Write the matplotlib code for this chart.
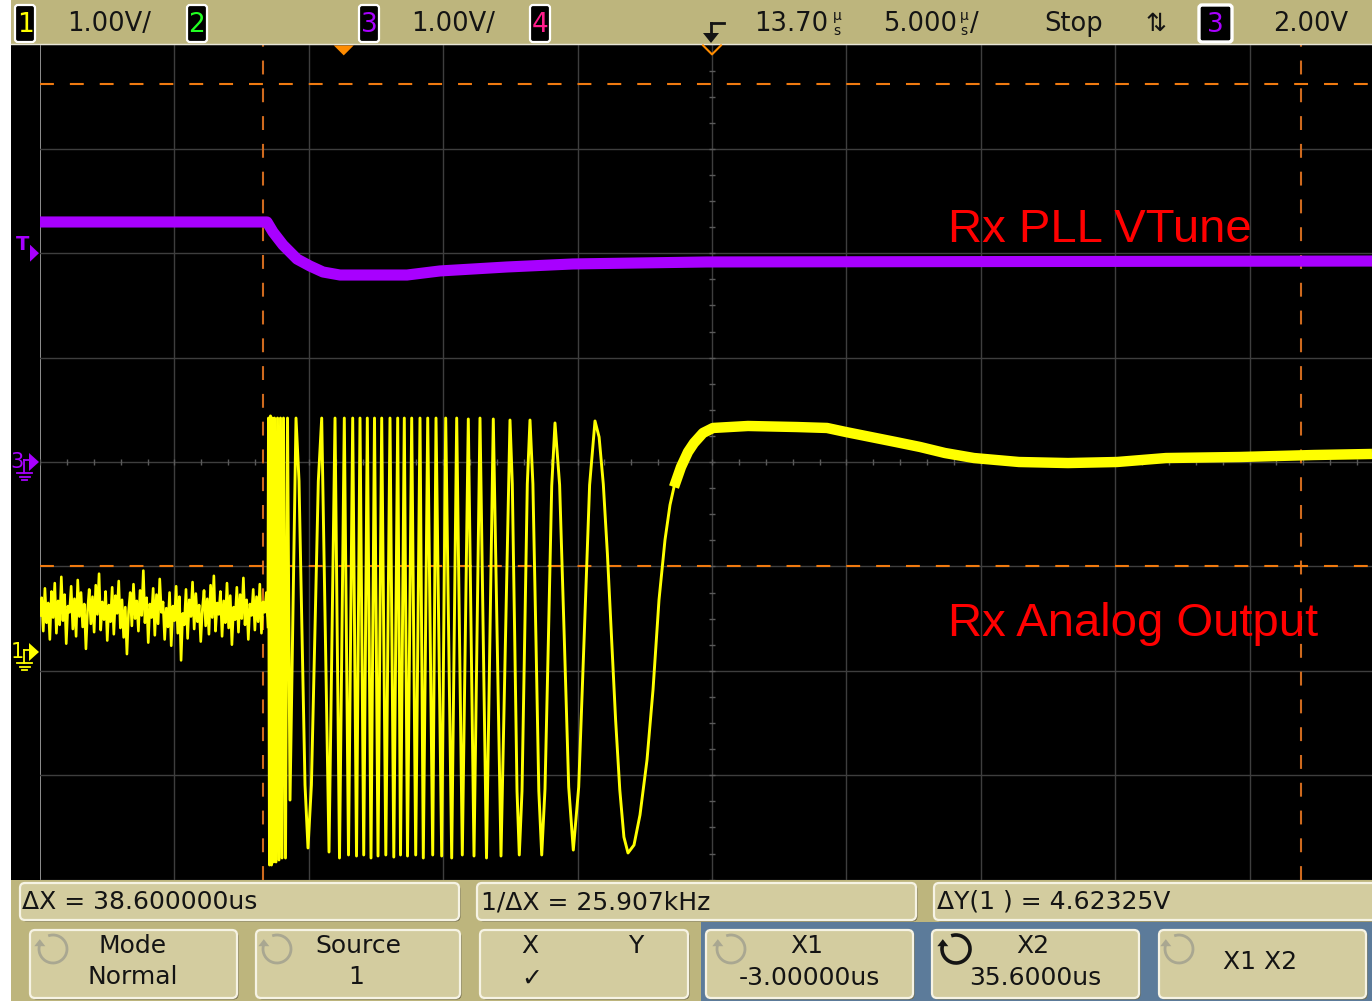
import numpy as np
import matplotlib
matplotlib.use("Agg")
import matplotlib.pyplot as plt
from matplotlib.patches import Rectangle, FancyBboxPatch, Polygon, Arc

plt.rcParams['font.family'] = ['DejaVu Sans']
plt.rcParams['lines.scale_dashes'] = False

# ---------------- scope settings / data ----------------
time_per_div_us = 5.0
center_time_us = 13.70
volts_per_div = 1.0
ch1_ground_div = -1.82
ch3_ground_div = 0.0
trigger_level_v = 2.00

cursor_x1_us = -3.0
cursor_x2_us = 35.6
cursor_y1_v = 0.82
cursor_dy_v = 4.62325

# Channel 3 : Rx PLL VTune
vtune_t_us = [-11.30, -2.855, -2.632, -2.260, -1.739, -1.255, -0.772, -0.139,
              2.354, 3.581, 6.073, 8.529, 13.514, 38.254]
vtune_v = [2.299, 2.299, 2.203, 2.079, 1.944, 1.877, 1.820, 1.791,
           1.791, 1.830, 1.868, 1.897, 1.916, 1.925]

# Channel 1 : Rx Analog Output, noise before the burst
pre_noise_v = [0.35, 0.52, 0.20, 0.61, 0.28, 0.47, 0.12, 0.58, 0.33, 0.66,
               0.18, 0.49, 0.26, 0.72, 0.30, 0.55, 0.08, 0.44, 0.38, 0.63,
               0.22, 0.51, 0.15, 0.69, 0.34, 0.57, 0.24, 0.46, 0.03, 0.40,
               0.60, 0.27, 0.53, 0.19, 0.64, 0.36, 0.75, 0.21, 0.48, 0.31,
               0.58, 0.11, 0.45, 0.29, 0.62, 0.17, 0.54, 0.37, 0.68, 0.23,
               0.50, 0.14, 0.43, -0.02, 0.39, 0.57, 0.25, 0.65, 0.32, 0.49,
               0.20, 0.59, 0.35, 0.78, 0.28, 0.52, 0.09, 0.46, 0.33, 0.61,
               0.16, 0.55, 0.27, 0.70, 0.38, 0.48, 0.12, 0.42, 0.24, 0.57,
               0.06, 0.44, 0.30, 0.63, 0.18, 0.53, -0.08, 0.37, 0.26, 0.60,
               0.13, 0.50, 0.34, 0.67, 0.22, 0.56, 0.29, 0.45, 0.10, 0.41,
               0.59, 0.25, 0.51, 0.17, 0.64, 0.33, 0.73, 0.20, 0.47, 0.36,
               0.58, 0.15, 0.49, 0.28, 0.66, 0.23, 0.54, 0.07, 0.43, 0.31,
               0.62, 0.19, 0.55, 0.32, 0.71, 0.26, 0.50, 0.12, 0.46, 0.35,
               0.60, 0.21, 0.53, 0.29, 0.65, 0.18, 0.48, 0.38, 0.57, 0.24]

# Channel 1 : chirp burst (peaks / troughs)
chirp_t_us = [-2.818, -2.799, -2.762, -2.725, -2.688, -2.650, -2.613, -2.576, -2.520, -2.464,
              -2.409, -2.353, -2.297, -2.241, -2.167, -2.092, -1.999,
              -1.776, -1.664, -1.553, -1.441, -1.330, -1.203, -1.073, -0.946, -0.820,
              -0.548, -0.325, -0.158, 0.021, 0.177, 0.333, 0.475, 0.605, 0.743, 0.877,
              1.014, 1.144, 1.275, 1.412, 1.565, 1.721, 1.862, 2.007, 2.112, 2.253,
              2.372, 2.528, 2.677, 2.837, 2.960, 3.124, 3.310, 3.432, 3.644, 3.793,
              4.016, 4.202, 4.411, 4.634, 4.846, 5.069, 5.311, 5.564, 5.850, 6.185,
              6.271, 6.360, 6.446, 6.531, 6.632, 6.732, 6.829, 6.929, 7.037, 7.149,
              7.257, 7.365, 7.487, 7.614, 7.737, 7.859, 8.031, 8.202, 8.369, 8.540,
              8.741, 8.946, 9.147, 9.347, 9.500, 9.656, 9.809, 9.961, 10.114, 10.270,
              10.423, 10.575, 10.798, 11.021, 11.282, 11.505, 11.728, 11.951, 12.137, 12.286]
chirp_v = [0.354, 2.241, -2.040, 2.261, -2.040, 2.241, -2.011, 2.241, -2.011, 2.241,
           -1.992, 2.241, -1.973, 2.241, -1.973, 2.241, -1.418,
           2.241, 1.638, 0.182, -1.274, -1.877, -1.274, 0.182, 1.638, 2.241,
           -1.916, 2.241, -1.973, 2.241, -1.944, 2.241, -1.954, 2.241, -1.944, 2.241,
           -1.973, 2.241, -1.954, 2.241, -1.944, 2.241, -1.964, 2.241, -1.944, 2.241,
           -1.954, 2.241, -1.944, 2.241, -1.973, 2.241, -1.944, 2.241, -1.954, 2.241,
           -1.973, 2.241, -1.944, 2.232, -1.954, 2.241, -1.973, 2.232, -1.954, 2.222,
           1.609, 0.144, -1.331, -1.944, -1.331, 0.144, 1.609, 2.222, 1.609, 0.144,
           -1.331, -1.944, -1.312, 0.125, 1.590, 2.194, 1.600, 0.153, -1.293, -1.897,
           -1.293, 0.153, 1.600, 2.213, 2.059, 1.609, 0.939, 0.144, -0.651, -1.322,
           -1.772, -1.925, -1.849, -1.561, -1.034, -0.364, 0.498, 1.073, 1.408, 1.580]

# Channel 1 : settling after the burst
settle_t_us = [12.286, 12.547, 12.807, 13.030, 13.365, 13.737, 15.039, 16.862, 17.978, 18.685,
               19.615, 20.545, 21.438, 22.368, 23.447, 25.121, 26.944, 28.767, 30.590, 33.343,
               36.096, 38.254]
settle_v = [1.580, 1.772, 1.916, 2.002, 2.098, 2.146, 2.165, 2.155, 2.146, 2.107,
            2.059, 2.011, 1.964, 1.906, 1.858, 1.820, 1.810, 1.820, 1.858, 1.868,
            1.887, 1.897]

# ---------------- layout (pixels) ----------------
W, H = 1372, 1001
gx0, gx1 = 40.0, 1372.0
gy0, gy1 = 44.4, 879.6
px_div_x = 134.4
px_div_y = (gy1 - gy0) / 8.0
t_left = center_time_us - 5 * time_per_div_us
t_right = t_left + (gx1 - gx0) / px_div_x * time_per_div_us

def tx(t):
    return gx0 + (t - t_left) / time_per_div_us * px_div_x

def dy(d):
    return (gy0 + gy1) / 2 - d * px_div_y

KHAKI = '#BDB57D'
PANEL = '#D3CC9F'
YEL = '#FFFF00'
PUR = '#A800FF'
ORG_V = '#CF6A1E'
ORG_H = '#F07A10'

fig = plt.figure(figsize=(W / 100, H / 100), dpi=100)
fig.patch.set_facecolor('white')

bg = fig.add_axes([0, 0, 1, 1], zorder=0)
bg.set_xlim(0, W); bg.set_ylim(H, 0); bg.axis('off')
bg.add_patch(Rectangle((11, 0), W - 11, H, fc='black', ec='none'))

ax = fig.add_axes([gx0 / W, 1 - gy1 / H, (gx1 - gx0) / W, (gy1 - gy0) / H], zorder=1)
ax.set_facecolor('black')
ax.set_xlim(t_left, t_right)
ax.set_ylim(-4, 4)
ax.set_xticks([]); ax.set_yticks([])
for s in ax.spines.values():
    s.set_visible(False)

# graticule
GRID = '#3E3E3E'
for k in range(11):
    t = t_left + k * time_per_div_us
    if t <= t_right:
        ax.axvline(t, color=('#A8A8A8' if k == 0 else GRID), lw=1.2 if k == 0 else 1.0, zorder=1)
for j in range(-4, 5):
    ax.axhline(j, color=GRID, lw=1.0, zorder=1)
minor_t = t_left + np.arange(0, 50) * time_per_div_us / 5
ax.vlines(minor_t, -0.03, 0.03, color='#5A5A5A', lw=1.0, zorder=1)
minor_y = np.arange(-16, 17) * 0.25
ax.hlines(minor_y, center_time_us - 0.13, center_time_us + 0.13, color='#5A5A5A', lw=1.0, zorder=1)

# cursors
for cx in (cursor_x1_us, cursor_x2_us):
    ax.axvline(cx, color=ORG_V, lw=1.5, dashes=(10, 10), zorder=2)
for cy in (cursor_y1_v, cursor_y1_v + cursor_dy_v):
    ax.axhline(cy / volts_per_div + ch1_ground_div, color=ORG_H, lw=1.5, dashes=(10, 11.5), zorder=2)

# traces
ax.plot(vtune_t_us, np.array(vtune_v) / volts_per_div + ch3_ground_div, color=PUR, lw=8,
        solid_joinstyle='round', solid_capstyle='butt', zorder=3)
noise_t = np.linspace(t_left, chirp_t_us[0], len(pre_noise_v))
ax.plot(noise_t, np.array(pre_noise_v) / volts_per_div + ch1_ground_div, color=YEL, lw=1.9,
        solid_joinstyle='round', zorder=4)
ax.plot(chirp_t_us, np.array(chirp_v) / volts_per_div + ch1_ground_div, color=YEL, lw=2.1,
        solid_joinstyle='round', zorder=4)
ax.plot(settle_t_us, np.array(settle_v) / volts_per_div + ch1_ground_div, color=YEL, lw=7.5,
        solid_joinstyle='round', solid_capstyle='butt', zorder=4)

# ---------------- overlay: bars, markers, labels ----------------
ov = fig.add_axes([0, 0, 1, 1], zorder=2)
ov.set_xlim(0, W); ov.set_ylim(H, 0); ov.axis('off')
ov.patch.set_alpha(0)

# top bar
ov.add_patch(Rectangle((11, 0), W - 11, gy0, fc=KHAKI, ec='none'))
ov.plot([11, W], [gy0, gy0], color='#E8E6D8', lw=1)

def chbox(x0, x1, y0, y1, digit, color, lw=1.6):
    ov.add_patch(FancyBboxPatch((x0, y0), x1 - x0, y1 - y0,
                                boxstyle='round,pad=0,rounding_size=3',
                                fc='black', ec='white', lw=lw))
    ov.text((x0 + x1) / 2, (y0 + y1) / 2 + 1, digit, color=color, ha='center', va='center',
            fontsize=19)

TXT = '#141414'
chbox(15, 35, 5, 42, '1', YEL)
ov.text(67, 24, '1.00V/', fontsize=18.5, color=TXT, ha='left', va='center')
chbox(187, 207, 5, 42, '2', '#22FF22')
chbox(359, 379, 5, 42, '3', PUR)
ov.text(411, 24, '1.00V/', fontsize=18.5, color=TXT, ha='left', va='center')
chbox(530, 550, 5, 42, '4', '#FF1E8C')

# falling-edge trigger symbol
ov.plot([711, 724], [23, 23], color=TXT, lw=2)
ov.plot([711, 711], [23, 36], color=TXT, lw=2)
ov.add_patch(Polygon([(703, 33), (719, 33), (711, 43)], closed=True, fc=TXT, ec='none'))

ov.text(828, 24, '13.70', fontsize=18.5, color=TXT, ha='right', va='center')
ov.text(837, 16, 'µ', fontsize=10, color=TXT, ha='center', va='center')
ov.text(837, 31, 's', fontsize=10, color=TXT, ha='center', va='center')
ov.text(957, 24, '5.000', fontsize=18.5, color=TXT, ha='right', va='center')
ov.text(964, 16, 'µ', fontsize=10, color=TXT, ha='center', va='center')
ov.text(964, 31, 's', fontsize=10, color=TXT, ha='center', va='center')
ov.text(970, 24, '/', fontsize=18.5, color=TXT, ha='left', va='center')
ov.text(1044, 24, 'Stop', fontsize=18.5, color=TXT, ha='left', va='center')
ov.text(1156, 24, '⇅', fontsize=18, color=TXT, ha='center', va='center')
chbox(1199, 1232, 5, 42, '3', PUR, lw=2.4)
ov.text(1273, 24, '2.00V', fontsize=18.5, color=TXT, ha='left', va='center')

# trigger position markers on top of graticule
x_trig = tx(0.0)
x_ref = tx(center_time_us)
ov.add_patch(Polygon([(x_trig - 10, gy0 + 1), (x_trig + 10, gy0 + 1), (x_trig, gy0 + 11)],
                     closed=True, fc='#FF8C00', ec='none'))
ov.plot([x_ref - 9, x_ref, x_ref + 9], [gy0 + 1, gy0 + 10, gy0 + 1], color='#FF8C00', lw=1.5)

# left channel markers
yT = dy(trigger_level_v / volts_per_div + ch3_ground_div)
ov.text(23, yT - 9, 'T', fontsize=14, color=PUR, ha='center', va='center', fontweight='bold')
ov.add_patch(Polygon([(30, yT - 8.5), (30, yT + 8.5), (39, yT)], closed=True, fc=PUR, ec='none'))

def gnd_marker(yc, digit, color):
    ov.text(17, yc, digit, fontsize=15, color=color, ha='center', va='center')
    ov.add_patch(Polygon([(29, yc - 9), (29, yc + 9), (39, yc)], closed=True, fc=color, ec='none'))
    ov.plot([24, 29], [yc - 2, yc - 2], color=color, lw=1.3)
    ov.plot([24, 24], [yc - 2, yc + 11], color=color, lw=1.3)
    ov.plot([17, 32], [yc + 11, yc + 11], color=color, lw=1.3)
    ov.plot([19.5, 29.5], [yc + 14.5, yc + 14.5], color=color, lw=1.3)
    ov.plot([22, 27], [yc + 18, yc + 18], color=color, lw=1.3)

gnd_marker(dy(ch3_ground_div), '3', PUR)
gnd_marker(dy(ch1_ground_div), '1', YEL)

# annotation labels
ov.text(948, 242, 'Rx PLL VTune', fontsize=34, color='#FF0000', ha='left', va='baseline',
        family=['Liberation Sans', 'DejaVu Sans'])
ov.text(948, 636, 'Rx Analog Output', fontsize=34, color='#FF0000', ha='left', va='baseline',
        family=['Liberation Sans', 'DejaVu Sans'])

# bottom bar
ov.add_patch(Rectangle((11, gy1), W - 11, H - gy1, fc=KHAKI, ec='none'))
ov.add_patch(Rectangle((701, 922), W - 701, H - 922, fc='#5C7B9A', ec='none'))

def panel(x0, x1, y0, y1):
    ov.add_patch(FancyBboxPatch((x0 + 1.5, y0 + 1.5), x1 - x0, y1 - y0,
                                boxstyle='round,pad=0,rounding_size=5', fc='#6F6A4C', ec='none'))
    ov.add_patch(FancyBboxPatch((x0, y0), x1 - x0, y1 - y0,
                                boxstyle='round,pad=0,rounding_size=5', fc=PANEL,
                                ec='#F6F3E4', lw=1.6))

def icon(cx, cy, color, lw):
    ov.add_patch(Arc((cx, cy), 28, 28, theta1=250, theta2=560, color=color, lw=lw))
    axp, ayp = cx - 13.2, cy - 4.8
    ov.add_patch(Polygon([(axp - 5.5, ayp + 2), (axp + 5.5, ayp + 2), (axp, ayp - 5)],
                         closed=True, fc=color, ec='none'))

panel(20, 459, 883, 920)
panel(477, 916, 883, 920)
panel(934, 1385, 883, 920)
ov.text(22, 902, 'ΔX = 38.600000us', fontsize=18, color=TXT, ha='left', va='center')
ov.text(481, 902, '1/ΔX = 25.907kHz', fontsize=18, color=TXT, ha='left', va='center')
ov.text(937, 902, 'ΔY(1 ) = 4.62325V', fontsize=18, color=TXT, ha='left', va='center')

panel(30, 237, 930, 998)
panel(256, 460, 930, 998)
panel(480, 688, 930, 998)
panel(706, 913, 930, 998)
panel(932, 1139, 930, 998)
panel(1159, 1366, 930, 998)

GRAYI = '#A9A791'
icon(53, 949, GRAYI, 2.0)
icon(277, 949, GRAYI, 2.0)
icon(731, 949, GRAYI, 2.0)
icon(956, 949, TXT, 2.6)
icon(1179, 949, GRAYI, 2.0)

ov.text(133, 946, 'Mode', fontsize=18, color=TXT, ha='center', va='center')
ov.text(133, 977, 'Normal', fontsize=18, color=TXT, ha='center', va='center')
ov.text(358, 946, 'Source', fontsize=18, color=TXT, ha='center', va='center')
ov.text(356, 977, '1', fontsize=18, color=TXT, ha='center', va='center')
ov.text(530, 946, 'X', fontsize=18, color=TXT, ha='center', va='center')
ov.text(636, 946, 'Y', fontsize=18, color=TXT, ha='center', va='center')
ov.text(532, 979, '✓', fontsize=18, color=TXT, ha='center', va='center')
ov.text(807, 946, 'X1', fontsize=18, color=TXT, ha='center', va='center')
ov.text(809, 978, '-3.00000us', fontsize=18, color=TXT, ha='center', va='center')
ov.text(1033, 946, 'X2', fontsize=18, color=TXT, ha='center', va='center')
ov.text(1035, 978, '35.6000us', fontsize=18, color=TXT, ha='center', va='center')
ov.text(1260, 962, 'X1 X2', fontsize=18, color=TXT, ha='center', va='center')

fig.savefig('out.png', dpi=100, facecolor='white')
